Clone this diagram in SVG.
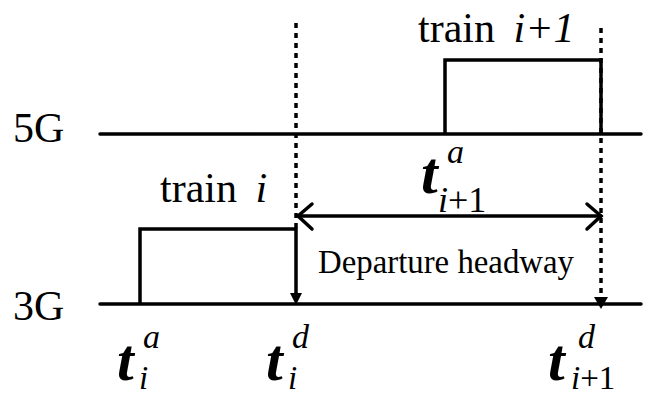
<svg xmlns="http://www.w3.org/2000/svg" width="646" height="395" viewBox="0 0 646 395">
  <defs>
    <style>
      .line { stroke: #000; stroke-width: 3.5; fill: none; stroke-linecap: round; }
      .train { stroke: #000; stroke-width: 3.5; fill: none; stroke-linejoin: miter; }
      .dot { stroke: #000; stroke-width: 3.5; fill: none; stroke-dasharray: 5 5; }
      .head { fill: #000; }
      .lbl { font-family: "Liberation Serif", "Times New Roman", serif; fill: #000; }
      .big { font-size: 42px; }
      .note { font-size: 33px; }
      .tv { font-size: 60px; font-style: italic; font-weight: bold; }
      .sup { font-size: 34px; font-style: italic; }
      .sub { font-size: 36px; }
      .subl { font-size: 33px; }
      .it { font-style: italic; }
    </style>
  </defs>

  <!-- channel baselines -->
  <g id="channel-5g">
    <line class="line" x1="100" y1="134" x2="641" y2="134"/>
    <text class="lbl big" x="13" y="142">5G</text>
  </g>
  <g id="channel-3g">
    <line class="line" x1="100" y1="304" x2="641" y2="304"/>
    <text class="lbl big" x="13" y="320">3G</text>
  </g>

  <!-- occupancy of each train -->
  <g id="train-i">
    <polyline class="train" points="140,304 140,229 296,229 296,300"/>
    <text class="lbl big" x="160" y="202">train <tspan class="it" dx="8">i</tspan></text>
  </g>
  <g id="train-i1">
    <polyline class="train" points="445,134 445,60 601,60 601,134"/>
    <text class="lbl big" x="418" y="42">train <tspan class="it" dx="8">i+1</tspan></text>
  </g>

  <!-- connectors: departure markers and headway span -->
  <g id="connectors">
    <line class="dot" x1="296" y1="23" x2="296" y2="229"/>
    <line class="dot" x1="601" y1="28" x2="601" y2="298"/>
    <polygon class="head" points="290,293 302,293 296,305"/>
    <polygon class="head" points="594,297 608,297 601,309"/>
    <line class="line" x1="298" y1="216" x2="601" y2="216"/>
    <polyline class="line" points="312,204 298,216 312,229"/>
    <polyline class="line" points="587,204 601,216 587,229"/>
  </g>

  <g id="headway-label">
    <text class="lbl note" x="318" y="273" textLength="256" lengthAdjust="spacingAndGlyphs">Departure headway</text>
  </g>

  <!-- time symbols -->
  <g id="t-arr-i1">
    <text class="lbl tv" x="421" y="193">t</text>
    <text class="lbl sup" x="447" y="163">a</text>
    <text class="lbl sub" x="438" y="212"><tspan class="it">i</tspan>+1</text>
  </g>
  <g id="t-arr-i">
    <text class="lbl tv" x="117" y="380">t</text>
    <text class="lbl sup" x="143" y="348">a</text>
    <text class="lbl subl" x="139" y="389"><tspan class="it">i</tspan></text>
  </g>
  <g id="t-dep-i">
    <text class="lbl tv" x="266" y="380">t</text>
    <text class="lbl sup" x="292" y="348">d</text>
    <text class="lbl subl" x="288" y="389"><tspan class="it">i</tspan></text>
  </g>
  <g id="t-dep-i1">
    <text class="lbl tv" x="548" y="380">t</text>
    <text class="lbl sup" x="578" y="348">d</text>
    <text class="lbl subl" x="571" y="389"><tspan class="it">i</tspan>+1</text>
  </g>
</svg>
